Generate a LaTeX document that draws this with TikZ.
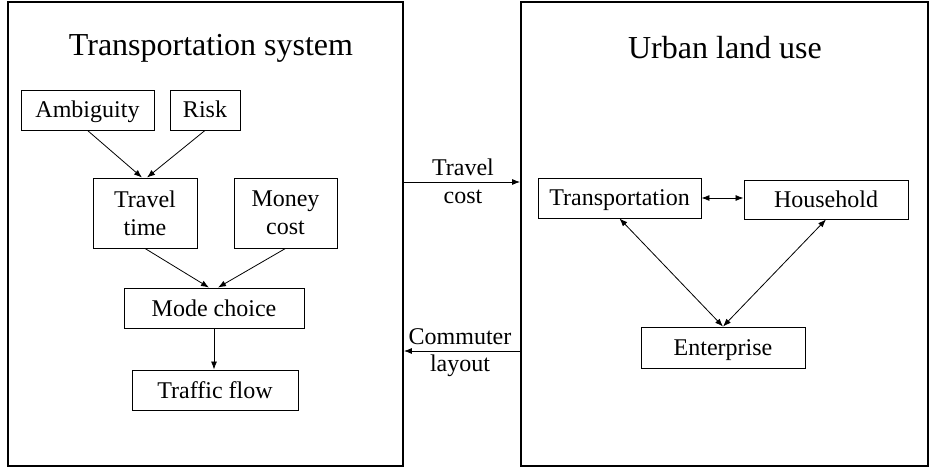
\documentclass[tikz,border=0pt]{standalone}
\usepackage{fontspec}
\setmainfont{Liberation Serif}
\usetikzlibrary{arrows.meta}
\begin{document}
\begin{tikzpicture}[x=1pt,y=-1pt,
  panel/.style={draw,line width=1.8pt,inner sep=0pt},
  item/.style={draw,line width=0.9pt,inner sep=0pt,align=center,
    font=\fontsize{24}{28}\selectfont},
  oneline/.style={item,text height=22pt,text depth=6pt},
  heading/.style={font=\fontsize{32}{38}\selectfont,inner sep=0pt},
  lbl/.style={font=\fontsize{24}{28}\selectfont,inner sep=0pt},
  link/.style={line width=0.8pt,-{Latex[length=8pt,width=6pt]}},
  twoway/.style={line width=0.8pt,{Latex[length=8pt,width=6pt]}-{Latex[length=8pt,width=6pt]}}]
\useasboundingbox (0,0) rectangle (930,468);
\fill[white] (0,0) rectangle (930,468);

% two panels
\node[panel,minimum width=395pt,minimum height=464pt] (lbox) at (205.5,234) {};
\node[panel,minimum width=407pt,minimum height=464pt] (rbox) at (724.5,234) {};

\node[heading] (ltitle) at (211,48) {Transportation system};
\node[heading] (rtitle) at (725,48) {Urban land use};

% transportation system
\node[oneline,minimum width=133pt,minimum height=40pt] (amb) at (87.5,110) {Ambiguity};
\node[oneline,minimum width=70pt,minimum height=40pt] (risk) at (205,110) {Risk};
\node[item,minimum width=104pt,minimum height=70pt] (tt) at (145,213) {Travel\\time};
\node[item,minimum width=103pt,minimum height=70pt] (mc) at (285.5,213) {Money\\cost};
\node[oneline,minimum width=180pt,minimum height=40pt] (mode) at (214,308) {Mode choice};
\node[oneline,minimum width=166pt,minimum height=40pt] (flow) at (215,390) {Traffic flow};

\draw[link] (amb.south) -- ([xshift=-3pt]tt.north);
\draw[link] (risk.south) -- ([xshift=2pt]tt.north);
\draw[link] (tt.south) -- ([xshift=-5pt]mode.north);
\draw[link] (mc.south) -- ([xshift=4pt]mode.north);
\draw[link] (mode.south) -- (mode.south |- flow.north);

% urban land use
\node[oneline,minimum width=163pt,minimum height=40pt] (trans) at (619.5,198) {Transportation};
\node[oneline,minimum width=164pt,minimum height=39pt] (house) at (826,199.5) {Household};
\node[oneline,minimum width=164pt,minimum height=41pt] (ent) at (723,347.5) {Enterprise};

\draw[twoway] (trans.east) -- (trans.east -| house.west);
\draw[twoway] (trans.south) -- (ent.north);
\draw[twoway] (house.south) -- (ent.north);

% interaction between the panels
\coordinate (tc) at (460,182);
\coordinate (cl) at (460,351);
\draw[link] (lbox.east |- tc) -- (rbox.west |- tc);
\draw[link] (rbox.west |- cl) -- (lbox.east |- cl);
\node[lbl] (tc1) at (463,167) {Travel};
\node[lbl] (tc2) at (463,197) {cost};
\node[lbl] (cl1) at (460,337) {Commuter};
\node[lbl] (cl2) at (460,366) {layout};
\end{tikzpicture}
\end{document}
